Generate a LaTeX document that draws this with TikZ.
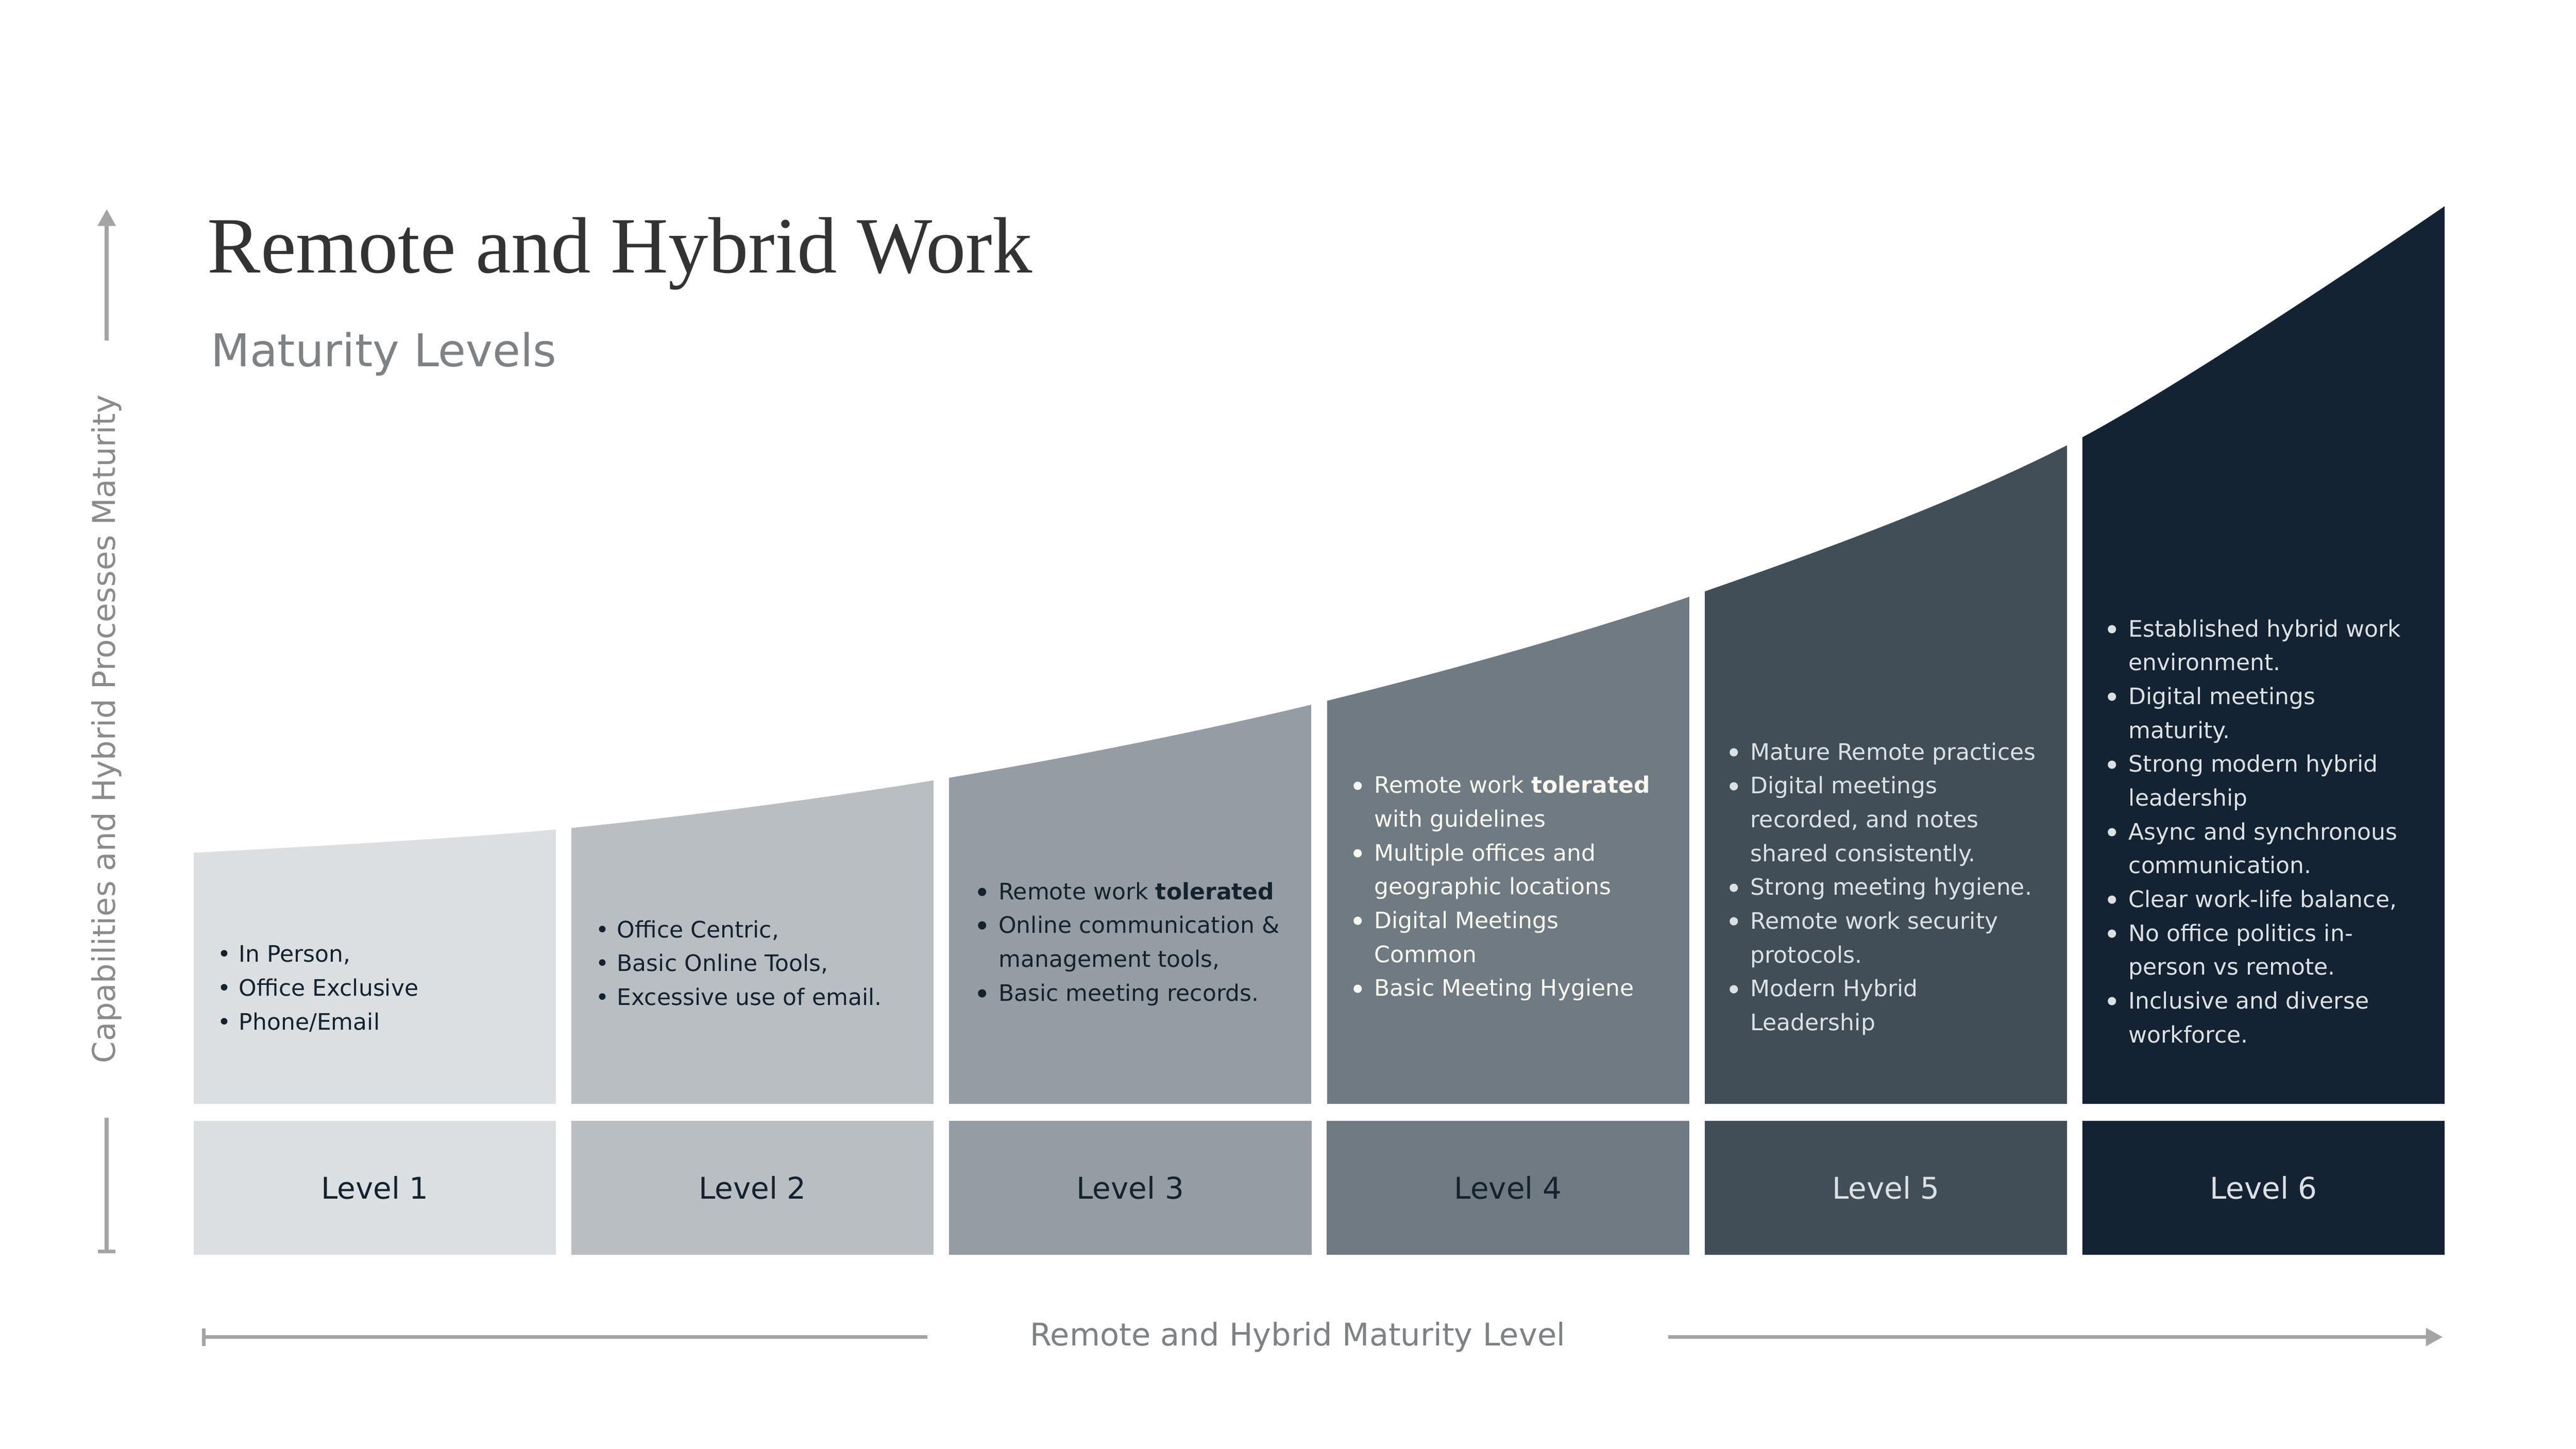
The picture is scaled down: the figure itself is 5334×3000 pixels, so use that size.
\documentclass[tikz,border=0pt]{standalone}
\usepackage{fontspec}
\setmainfont{DejaVu Sans}
\newfontfamily\titlefont{Liberation Serif}
\usepackage{graphicx}
\usepackage{tikz}
\usetikzlibrary{arrows.meta}
\definecolor{lvA}{HTML}{DCDFE2}
\definecolor{lvB}{HTML}{B9BEC3}
\definecolor{lvC}{HTML}{959CA3}
\definecolor{lvD}{HTML}{6F7A82}
\definecolor{lvE}{HTML}{414E58}
\definecolor{lvF}{HTML}{142333}
\definecolor{ink}{HTML}{14222F}
\definecolor{paleink}{HTML}{DDE0E3}
\definecolor{whiteink}{HTML}{FAF8F0}
\definecolor{axisgray}{HTML}{A4A4A4}
\definecolor{labelgray}{HTML}{7E8285}
\definecolor{titlegray}{HTML}{333333}
\newcommand{\bul}{\strut\llap{\makebox[1.3em][c]{\textbullet}}}
\newcommand{\bulb}{\strut\llap{\makebox[1.45em][c]{\raisebox{-0.14em}{\scalebox{1.25}{\textbullet}}}}}

\begin{document}
\begin{tikzpicture}[x=0.01cm, y=-0.01cm,
	levelbox/.style={minimum width=7.5cm, minimum height=2.78cm, inner sep=0, font=\fontsize{17.6pt}{21pt}\selectfont},
	bullets/.style={anchor=north west, inner sep=0, align=left, font=\fontsize{13.37pt}{19.92pt}\selectfont},
	axisline/.style={draw=axisgray, line width=0.08cm},
	axislabel/.style={font=\fontsize{18.4pt}{22pt}\selectfont, inner ysep=0}]
	\useasboundingbox (0,0) rectangle (5334,3000);
	\fill[white] (0,0) rectangle (5334,3000);
	% title
	\node[anchor=base west, inner sep=0, text=titlegray, font=\titlefont\fontsize{47pt}{50pt}\selectfont] (title) at (429,565) {Remote and Hybrid Work};
	\node[anchor=base west, inner sep=0, text=labelgray, font=\fontsize{26.6pt}{30pt}\selectfont] (subtitle) at (436,759) {Maturity Levels};
	% columns under the curve
	\begin{scope}
		\clip plot[smooth, tension=0.55] coordinates {(401,1766) (1170,1716) (1952,1613) (2733,1455) (3515,1230) (4296,914) (5062,427)} -- (5062,2286) -- (401,2286) -- cycle;
		\foreach \i/\col in {0/lvA,1/lvB,2/lvC,3/lvD,4/lvE,5/lvF}
			\fill[\col] ({401+782.2*\i},0) rectangle +(750,2286);
	\end{scope}
	% level boxes
	\foreach \i/\col/\ink in {1/lvA/ink,2/lvB/ink,3/lvC/ink,4/lvD/ink,5/lvE/paleink,6/lvF/paleink}
		\node[levelbox, fill=\col, text=\ink] (level\i) at ({776+782.2*(\i-1)},2460) {Level \i};
	% column texts
	\node[bullets, text=ink] (text1) at (494,1943) {\bul In Person,\\ \bul Office Exclusive\\ \bul Phone/Email};
	\node[bullets, text=ink] (text2) at (1277,1892) {\bul Office Centric,\\ \bul Basic Online Tools,\\ \bul Excessive use of email.};
	\node[bullets, text=ink] (text3) at (2067,1813) {\bulb Remote work \textbf{tolerated}\\ \bulb Online communication \&\\ management tools,\\ \bulb Basic meeting records.};
	\node[bullets, text=whiteink] (text4) at (2845,1593) {\bulb Remote work \textbf{tolerated}\\ with guidelines\\ \bulb Multiple offices and\\ geographic locations\\ \bulb Digital Meetings\\ Common\\ \bulb Basic Meeting Hygiene};
	\node[bullets, text=paleink] (text5) at (3624,1524) {\bulb Mature Remote practices\\ \bulb Digital meetings\\ recorded, and notes\\ shared consistently.\\ \bulb Strong meeting hygiene.\\ \bulb Remote work security\\ protocols.\\ \bulb Modern Hybrid\\ Leadership};
	\node[bullets, text=paleink] (text6) at (4407,1269) {\bulb Established hybrid work\\ environment.\\ \bulb Digital meetings\\ maturity.\\ \bulb Strong modern hybrid\\ leadership\\ \bulb Async and synchronous\\ communication.\\ \bulb Clear work-life balance,\\ \bulb No office politics in-\\ person vs remote.\\ \bulb Inclusive and diverse\\ workforce.};
	% axes
	\coordinate (ytop) at (221,433);
	\coordinate (ybot) at (221,2596);
	\node[axislabel, rotate=90, text=axisgray!85!black, inner xsep=1.12cm] (ylabel) at (221,1510) {Capabilities and Hybrid Processes Maturity};
	\draw[axisline, -{Triangle[length=0.35cm, width=0.36cm]}] (ylabel.east) -- (ytop);
	\draw[axisline, -{Bar[width=0.36cm]}] (ylabel.west) -- (ybot);
	\coordinate (xstart) at (418,2769);
	\coordinate (xend) at (5058,2769);
	\node[axislabel, text=labelgray, inner xsep=2.12cm] (xlabel) at (2687,2769) {Remote and Hybrid Maturity Level};
	\draw[axisline, {Bar[width=0.36cm]}-] (xstart) -- (xlabel.west);
	\draw[axisline, -{Triangle[length=0.35cm, width=0.36cm]}] (xlabel.east) -- (xend);
\end{tikzpicture}
\end{document}
